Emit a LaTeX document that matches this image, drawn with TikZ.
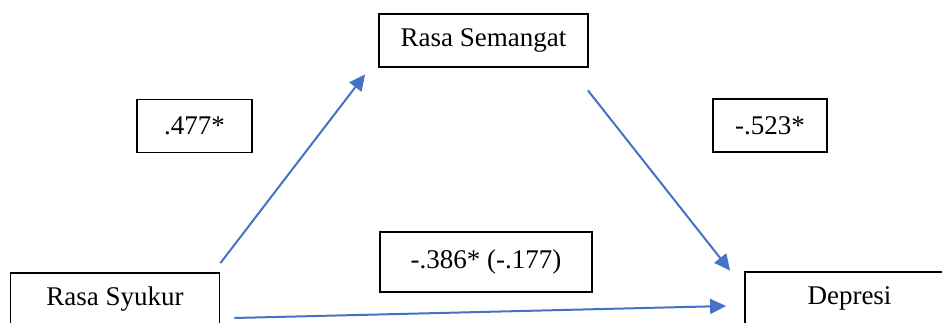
\documentclass[tikz,border=0pt]{standalone}
\usepackage{fontspec}
\setmainfont{Liberation Serif}
\usetikzlibrary{arrows.meta,calc,positioning}
\definecolor{PathBlue}{HTML}{4472C4}
\tikzset{
  varbox/.style={draw=black,line width=1.8pt,minimum width=209pt,minimum height=53pt,
    inner sep=0pt,font=\fontsize{27}{32}\selectfont},
  coefbox/.style={draw=black,line width=1.8pt,minimum height=53pt,
    inner sep=0pt,font=\fontsize{27}{32}\selectfont},
  pathline/.style={PathBlue,line width=2pt,-{Triangle[length=16pt,width=15pt]}}
}

\begin{document}
\begin{tikzpicture}[x=1pt,y=1pt]
        \useasboundingbox (0,0) rectangle (942,322);
        \clip (0,0) rectangle (942,322);
        % variables
        \node[varbox] (semangat) at (483.5,281.5) {Rasa Semangat};
        \node[varbox] (syukur) at (115,22.5) {Rasa Syukur};
        \node[varbox] (depresi) at (849.5,23.5) {Depresi};
        % coefficients
        \node[coefbox,minimum width=115pt] (coefa) at (194.5,196) {.477*};
        \node[coefbox,minimum width=114pt] (coefb) at (770,196.5) {-.523*};
        \node[coefbox,minimum width=212pt,minimum height=60pt] (coefc) at (486,60) {-.386* (-.177)};
        % path ends
        \coordinate (aStart) at ($(syukur.north east)+(0,9)$);
        \coordinate (aEnd) at ($(semangat.south west)+(-13,-6.5)$);
        \coordinate (bStart) at ($(semangat.south east)+(-1,-22.5)$);
        \coordinate (bEnd) at ($(depresi.north west)+(-14,0.5)$);
        \coordinate (cStart) at ($(syukur.east)+(14,-18.5)$);
        \coordinate (cEnd) at ($(depresi.west)+(-18,-7.5)$);
        \draw[pathline] (aStart) -- (aEnd);
        \draw[pathline] (bStart) -- (bEnd);
        \draw[pathline] (cStart) -- (cEnd);
      \end{tikzpicture}
\end{document}
